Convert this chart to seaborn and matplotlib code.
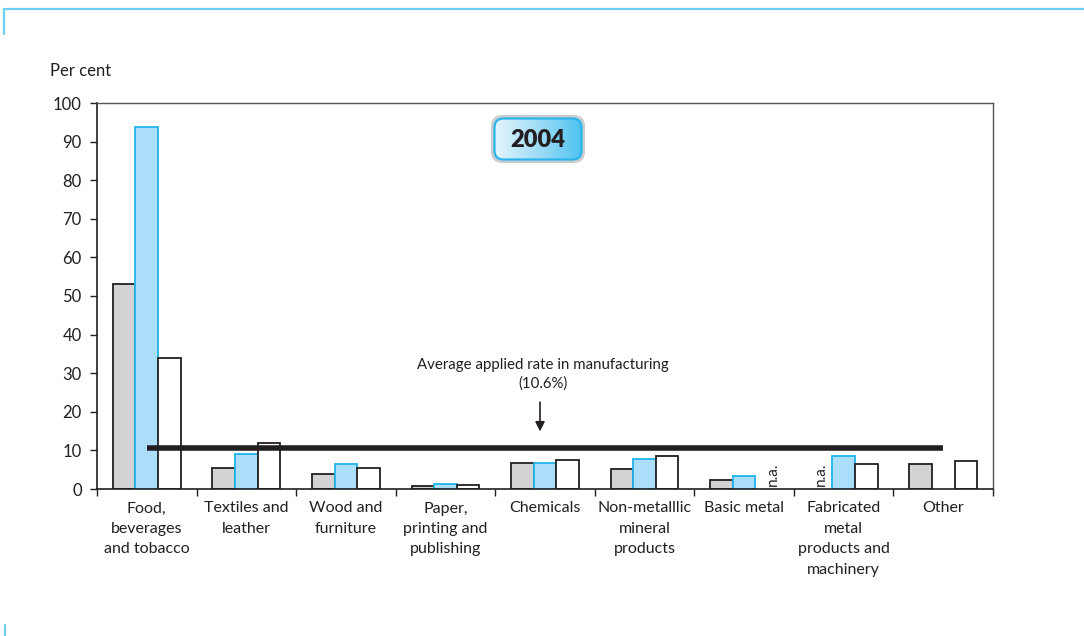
import numpy as np
import pandas as pd
import matplotlib
matplotlib.use("Agg")
import matplotlib.pyplot as plt
import seaborn as sns
from matplotlib.patches import FancyBboxPatch
from matplotlib.lines import Line2D

# ---- data -------------------------------------------------------------
categories = [
    "Food,\nbeverages\nand tobacco",
    "Textiles and\nleather",
    "Wood and\nfurniture",
    "Paper,\nprinting and\npublishing",
    "Chemicals",
    "Non-metalllic\nmineral\nproducts",
    "Basic metal",
    "Fabricated\nmetal\nproducts and\nmachinery",
    "Other",
]
series_names = ["Series 1", "Series 2", "Series 3"]
# NaN marks a value that is not available
series_1 = [53.0, 5.4, 3.8, 0.9, 6.8, 5.3, 2.4, np.nan, 6.4]
series_2 = [93.7, 9.0, 6.4, 1.4, 6.8, 7.7, 3.3, 8.6, np.nan]
series_3 = [34.0, 11.8, 5.4, 1.1, 7.4, 8.6, np.nan, 6.4, 7.3]
na_labels = [(6, 2), (7, 0)]  # (category index, series index) shown as "n.a."
average_rate = 10.6
year_label = "2004"
y_ticks = list(range(0, 101, 10))

# ---- styling ----------------------------------------------------------
sns.set_theme(style="white")
plt.rcParams["font.family"] = ["Lato", "DejaVu Sans"]
plt.rcParams["font.size"] = 11.5

face_colors = ["#d1d3d4", "#abdef8", "#ffffff"]
edge_colors = ["#231f20", "#1fb4ea", "#231f20"]
text_color = "#231f20"
frame_blue = "#6fd0f0"

rows = []
for name, vals in zip(series_names, [series_1, series_2, series_3]):
    for cat, v in zip(categories, vals):
        if not np.isnan(v):
            rows.append({"category": cat, "series": name, "value": v})
df = pd.DataFrame(rows)

fig = plt.figure(figsize=(10.84, 6.36), dpi=100)
ax = fig.add_axes([97 / 1084, 1 - 489 / 636, (993 - 97) / 1084, (489 - 103) / 636])

sns.barplot(
    data=df, x="category", y="value", hue="series",
    order=categories, hue_order=series_names,
    width=0.68, gap=0, dodge=True, errorbar=None, legend=False, ax=ax,
)
for cont, fc, ec in zip(ax.containers, face_colors, edge_colors):
    for bar in cont:
        bar.set_facecolor(fc)
        bar.set_edgecolor(ec)
        bar.set_linewidth(1.3)
        bar.set_alpha(1)

ax.set_xlim(-0.5, len(categories) - 0.5)
ax.set_ylim(0, 100)
ax.set_xlabel("")
ax.set_ylabel("")

# category boundaries get the tick marks, centres get the labels
ax.set_xticks(np.arange(-0.5, len(categories)), labels=[""] * (len(categories) + 1))
ax.set_xticks(np.arange(len(categories)), labels=categories, minor=True)
ax.tick_params(axis="x", which="major", direction="out", length=5, width=1, color="#231f20", bottom=True)
ax.tick_params(axis="x", which="minor", length=0, pad=9, labelsize=11.5, labelcolor=text_color)
for lab in ax.get_xticklabels(minor=True):
    lab.set_linespacing(1.58)
ax.set_yticks(y_ticks)
ax.tick_params(axis="y", direction="out", length=5, width=1, color="#231f20", left=True,
               labelsize=12, labelcolor=text_color, pad=6)

for side in ["left", "bottom"]:
    ax.spines[side].set_color("#231f20")
    ax.spines[side].set_linewidth(1.2)
for side in ["top", "right"]:
    ax.spines[side].set_color("#555555")
    ax.spines[side].set_linewidth(1.0)

# average applied rate line, spanning category centres
ax.plot([0, len(categories) - 1], [average_rate, average_rate], color="#231f20", lw=4,
        solid_capstyle="butt", zorder=5)
ax.annotate("", xy=(3.95, average_rate + 3.6), xytext=(3.95, average_rate + 12.6),
            arrowprops=dict(arrowstyle="-|>", color="#231f20", lw=1.2, mutation_scale=14))
ax.text(3.98, 33.9, f"Average applied rate in manufacturing\n({average_rate}%)",
        ha="center", va="top", fontsize=10.8, color=text_color, linespacing=1.35)

# n.a. markers
offsets = [-0.68 / 3, 0.0, 0.68 / 3]
na_shift = [0.0, 0.0, 0.06]
for ci, si in na_labels:
    ax.text(ci + offsets[si] + na_shift[si], 0.8, "n.a.", rotation=90, ha="center", va="bottom",
            fontsize=11, color=text_color)

fig.text(50 / 1084, 1 - 71 / 636, "Per cent", ha="left", va="center", fontsize=12, color=text_color)

# year badge
bx = fig.add_axes([491 / 1084, 1 - 163 / 636, 94 / 1084, 48 / 636])
bx.set_xlim(0, 94)
bx.set_ylim(0, 48)
bx.axis("off")
outer = FancyBboxPatch((1.5, 1.5), 91, 45, boxstyle="round,pad=0,rounding_size=10",
                       fc="none", ec="#c9cdd0", lw=2.2)
bx.add_patch(outer)
inner = FancyBboxPatch((3.5, 3.5), 87, 41, boxstyle="round,pad=0,rounding_size=9",
                       fc="none", ec="#2bb5ea", lw=1.6, zorder=3)
bx.add_patch(inner)
grad = np.linspace(0, 1, 256)[None, :]
cmap = matplotlib.colors.LinearSegmentedColormap.from_list("badge", ["#e3f5fd", "#9fdcf6", "#4cc3f0"])
im = bx.imshow(grad, extent=(3.5, 90.5, 3.5, 44.5), aspect="auto", cmap=cmap, zorder=2)
im.set_clip_path(inner)
bx.text(47, 23, year_label, ha="center", va="center", fontsize=17, fontweight="heavy",
        color=text_color, zorder=4)

# page frame accents
fig.add_artist(Line2D([4 / 1084, 1], [1 - 9 / 636] * 2, color=frame_blue, lw=1.6))
fig.add_artist(Line2D([4 / 1084] * 2, [1 - 9 / 636, 1 - 34 / 636], color=frame_blue, lw=1.6))
fig.add_artist(Line2D([5 / 1084] * 2, [1 - 625 / 636, 0], color=frame_blue, lw=1.6))

fig.savefig("out.png", dpi=100)
